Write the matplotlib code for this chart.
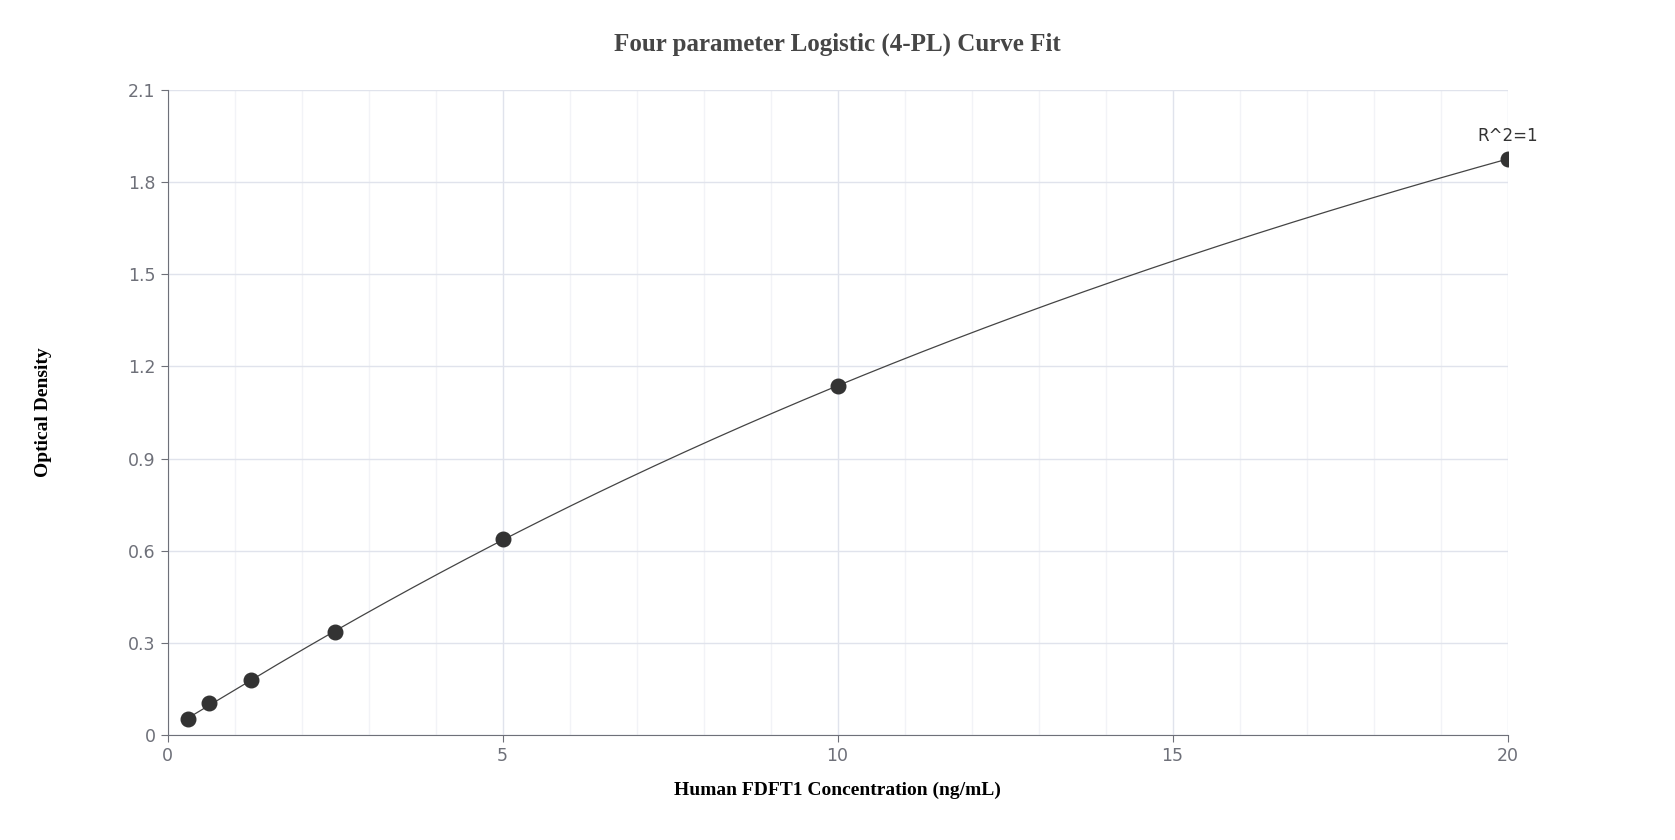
import numpy as np
import matplotlib
matplotlib.use("Agg")
import matplotlib.pyplot as plt

conc = [0.3125, 0.625, 1.25, 2.5, 5, 10, 20]
od = [0.052, 0.104, 0.178, 0.335, 0.637, 1.136, 1.875]
xticks = [0, 5, 10, 15, 20]
yticks = [0, 0.3, 0.6, 0.9, 1.2, 1.5, 1.8, 2.1]

x = np.array(conc); y = np.array(od)

def f(p, x):
    a, b, c, d = p
    return d + (a - d) / (1 + (np.abs(x) / c) ** b)

# 4PL least-squares fit (Levenberg-Marquardt, numerical Jacobian)
p = np.array([0.0, 1.0, 20.0, 4.0]); lam = 1e-3
for _ in range(500):
    r = y - f(p, x)
    J = np.zeros((len(x), 4))
    for i in range(4):
        dp = np.zeros(4); dp[i] = 1e-6 * max(1, abs(p[i]))
        J[:, i] = (f(p + dp, x) - f(p, x)) / dp[i]
    A = J.T @ J; g = J.T @ r
    step = np.linalg.solve(A + lam * np.diag(np.diag(A)), g)
    pn = p + step
    if pn[2] > 0 and np.sum((y - f(pn, x)) ** 2) < np.sum(r ** 2):
        p = pn; lam *= 0.5
    else:
        lam *= 4

fig = plt.figure(figsize=(16.75, 8.4), dpi=100)
ax = fig.add_axes([0.100, 0.125, 0.800, 0.768])
xs = np.linspace(0.3125, 20, 400)
ax.plot(xs, f(p, xs), color="#444444", lw=0.9, zorder=3)
ax.scatter(x, y, s=110, color="#333333", zorder=4)
ax.annotate("R^2=1", (20, 1.875), xytext=(0, 10), textcoords="offset points",
            ha="center", va="bottom", fontsize=12, color="#333333")

ax.set_xlim(0, 20); ax.set_ylim(0, 2.1)
ax.set_xticks(xticks); ax.set_yticks(yticks)
ax.set_yticklabels(["0", "0.3", "0.6", "0.9", "1.2", "1.5", "1.8", "2.1"])
ax.set_xticks(np.arange(0, 21, 1), minor=True)
ax.grid(which="major", color="#e0e3ec", lw=1)
ax.grid(which="minor", axis="x", color="#f2f3f7", lw=1)
ax.tick_params(which="minor", length=0)
ax.tick_params(which="major", length=5, colors="#6e7079", labelsize=12.5, color="#6e7079")
for s in ["top", "right"]:
    ax.spines[s].set_visible(False)
for s in ["left", "bottom"]:
    ax.spines[s].set_color("#6e7079")
ax.set_axisbelow(True)
ax.set_xlabel("Human FDFT1 Concentration (ng/mL)", fontfamily="Liberation Serif",
              fontweight="bold", fontsize=14, labelpad=12)
ax.set_ylabel("Optical Density", fontfamily="Liberation Serif",
              fontweight="bold", fontsize=14, labelpad=55)
fig.text(0.5, 0.94, "Four parameter Logistic (4-PL) Curve Fit", ha="center",
         fontfamily="Liberation Serif", fontweight="bold", fontsize=18, color="#464646")
fig.savefig("out.png", dpi=100)
